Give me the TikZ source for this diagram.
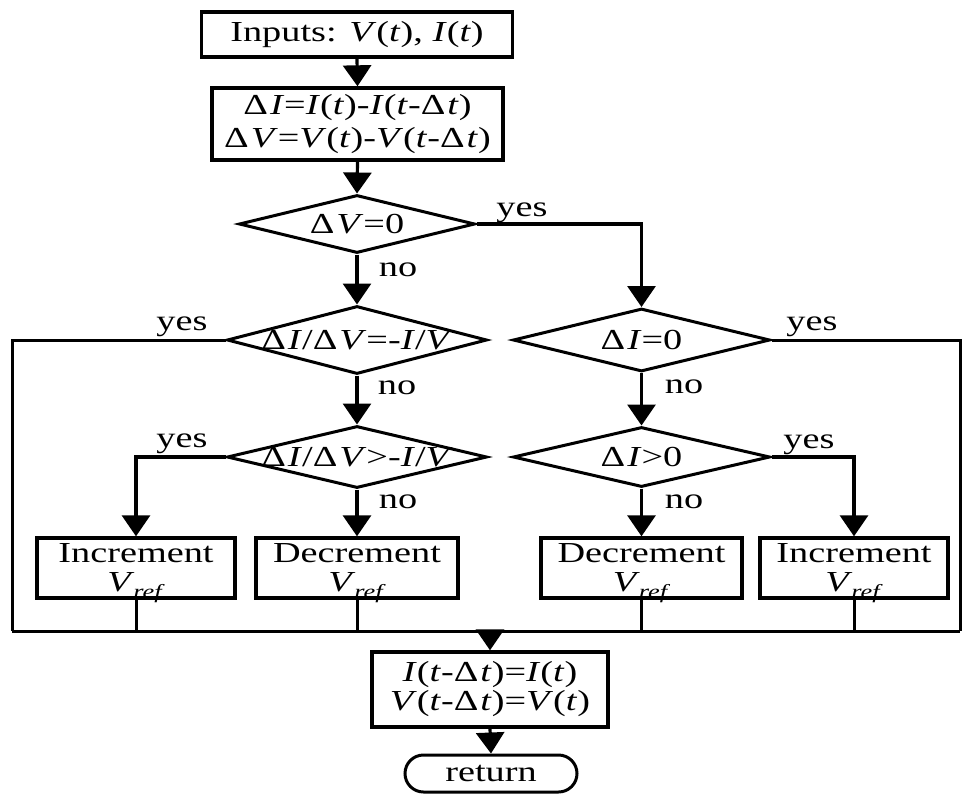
\documentclass[tikz,border=0pt]{standalone}
\usepackage{fontspec}
\setmainfont[FakeStretch=1.32]{Liberation Serif}
\usetikzlibrary{arrows.meta,shapes.geometric,shapes.misc}
\newcommand\vi[1]{\textit{#1}}
\newcommand\dlt{Δ\kern2pt}
\newcommand\vrefx{\textit{V}\kern-1pt\smash{\raisebox{-7pt}{\fontsize{20}{20}\selectfont\textit{ref}}}}
\newcommand\bodyfont{\fontsize{29}{31}\selectfont}
\begin{document}
\begin{tikzpicture}[x=1pt,y=-1pt,
  box/.style={draw, rectangle, line width=3.4pt, inner sep=0pt, align=center, font=\bodyfont},
  dia/.style={draw, diamond, line width=3pt, inner sep=0pt, font=\bodyfont},
  arr/.style={line width=3.2pt, -{Triangle[length=21pt,width=28pt]}},
  ln/.style={line width=3pt},
  lbl/.style={inner sep=0pt, font=\bodyfont}]
\useasboundingbox (0,0) rectangle (963,793);

% boxes
\node[box, minimum width=311pt, minimum height=45pt] (in) at (357,34.5) {Inputs: \vi{V}(\vi{t}), \vi{I}(\vi{t})};
\node[box, minimum width=291pt, minimum height=72pt, font=\fontsize{29}{33}\selectfont] (calc) at (357.5,124)
  {\dlt\vi{I}=\vi{I}(\vi{t})-\vi{I}(\vi{t}-\dlt\vi{t})\\ \dlt\vi{V}=\vi{V}(\vi{t})-\vi{V}(\vi{t}-\dlt\vi{t})};

% diamonds
\node[dia, minimum width=236pt, minimum height=58pt] (dv) at (357,224) {\makebox[0pt][c]{\dlt\vi{V}=0}};
\node[dia, minimum width=260pt, minimum height=68pt] (dd) at (357,340) {\makebox[0pt][c]{\dlt\vi{I}/\dlt\vi{V}=-\vi{I}/\vi{V}}};
\node[dia, minimum width=260pt, minimum height=62pt] (dg) at (357,457) {\makebox[0pt][c]{\dlt\vi{I}/\dlt\vi{V}>-\vi{I}/\vi{V}}};
\node[dia, minimum width=257pt, minimum height=63pt] (di) at (641.5,340) {\makebox[0pt][c]{\dlt\vi{I}=0}};
\node[dia, minimum width=257pt, minimum height=60pt] (dp) at (641.5,457) {\makebox[0pt][c]{\dlt\vi{I}>0}};

% action boxes
\tikzset{act/.style={box, minimum height=60pt, font=\fontsize{29}{29}\selectfont}}
\node[act, minimum width=198pt] (inca) at (136,568) {Increment\\ \vrefx};
\node[act, minimum width=202pt] (deca) at (357,568) {Decrement\\ \vrefx};
\node[act, minimum width=201pt] (decb) at (641.5,568) {Decrement\\ \vrefx};
\node[act, minimum width=188pt] (incb) at (854,568) {Increment\\ \vrefx};

% final boxes
\node[box, minimum width=236pt, minimum height=75pt, font=\fontsize{29}{29}\selectfont] (fin) at (490,689.5)
  {\vi{I}(\vi{t}-\dlt\vi{t})=\vi{I}(\vi{t})\\ \vi{V}(\vi{t}-\dlt\vi{t})=\vi{V}(\vi{t})};
\node[draw, rounded rectangle, line width=3pt, inner sep=0pt, minimum width=172pt, minimum height=37pt, font=\bodyfont] (ret) at (491,773.5) {return};

% bus coordinates
\coordinate (busL) at (12,631);
\coordinate (busR) at (960,631);
\coordinate (busM) at (490,631);

% connectors
\draw[arr] (in.south) -- (calc.north);
\draw[arr] (calc.south) -- (dv.north);
\draw[arr] (dv.east) -| (di.north);
\draw[arr] (dv.south) -- (dd.north);
\draw[ln] (dd.west) -| (busL);
\draw[arr] (dd.south) -- (dg.north);
\draw[arr] (dg.west) -| (inca.north);
\draw[arr] (dg.south) -- (deca.north);
\draw[ln] (di.east) -| (busR);
\draw[arr] (di.south) -- (dp.north);
\draw[arr] (dp.east) -| (incb.north);
\draw[arr] (dp.south) -- (decb.north);

\draw[ln] (inca.south) -- (inca.south |- busL);
\draw[ln] (deca.south) -- (deca.south |- busL);
\draw[ln] (decb.south) -- (decb.south |- busL);
\draw[ln] (incb.south) -- (incb.south |- busL);
\draw[ln] (busL) -- (busR);
\draw[arr] (busM) -- (fin.north);
\draw[arr] (fin.south) -- (ret.north);

% labels
\node[lbl] (y1) at (522,213) {yes};
\node[lbl] (n1) at (398,270) {no};
\node[lbl] (y2) at (182,327) {yes};
\node[lbl] (n2) at (397,388) {no};
\node[lbl] (y3) at (182,444) {yes};
\node[lbl] (n3) at (398,502) {no};
\node[lbl] (y4) at (812,327) {yes};
\node[lbl] (n4) at (684,387) {no};
\node[lbl] (y5) at (809,445) {yes};
\node[lbl] (n5) at (684,502) {no};
\end{tikzpicture}
\end{document}
